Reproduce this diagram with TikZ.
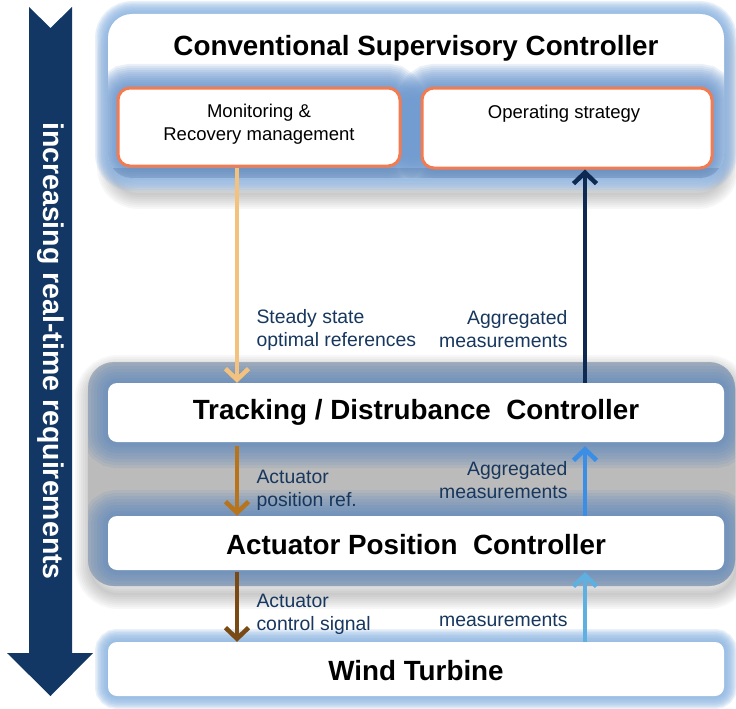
\documentclass[tikz,border=0pt]{standalone}
\usepackage{fontspec}
\setmainfont{Liberation Sans}
\usetikzlibrary{arrows.meta}
\definecolor{bignavy}{HTML}{123764}
\definecolor{labnavy}{HTML}{17375E}
\definecolor{glowlight}{HTML}{8DB4E2}
\definecolor{glowmid}{HTML}{5F90CC}
\definecolor{glowgrp}{HTML}{5A86BA}
\definecolor{grpgray}{HTML}{BBBBBB}
\definecolor{coral}{HTML}{F47B4F}
\definecolor{lorange}{HTML}{F2C27E}
\definecolor{brownA}{HTML}{B8741A}
\definecolor{brownB}{HTML}{7A4A14}
\definecolor{upnavy}{HTML}{0E2A52}
\definecolor{upblue}{HTML}{3A8EE6}
\definecolor{lblue}{HTML}{5FB0E0}
\tikzset{
  whitebox/.style={fill=white, draw=none},
  innerbox/.style={fill=white, draw=coral, line width=3pt, rounded corners=12pt},
  titletext/.style={font=\fontsize{27.8}{33}\selectfont\bfseries, text=black},
  labtext/.style={font=\fontsize{19.4}{23}\selectfont, text=labnavy},
  innertext/.style={font=\fontsize{18.5}{23}\selectfont, text=black, align=center},
  arr/.style={line width=4.5pt, -{Straight Barb[length=11pt,width=23pt,line width=4.5pt]}},
}
\newcommand\glowrect[6]{% color, maxwidth, step, opacity, corner radius, corners spec
  \foreach \w in {#2,#3,...,2}{\draw[#1, line width=\w pt, opacity=#4, rounded corners=#5] #6;}}
\begin{document}
\begin{tikzpicture}[x=1pt,y=-1pt]
\useasboundingbox[fill=white] (0,0) rectangle (736,709);

% big arrow
\fill[bignavy] (29,7) -- (50.5,28) -- (72,7) -- (72,653) -- (93,653) -- (50.5,696)
  -- (7,653) -- (29,653) -- cycle;
\node[rotate=-90, text=white, font=\fontsize{28.5}{33}\selectfont\bfseries] (vt) at (50.5,351)
  {increasing real-time requirements};

% ---- top box ----
\glowrect{black!50}{30}{26}{0.06}{26pt}{(112,30) rectangle (724,194)}
\glowrect{glowlight}{26}{23}{0.2}{24pt}{(108,14) rectangle (724,178)}
\path[fill=white, rounded corners=24pt] (108,14) rectangle (724,178);
\begin{scope}
  \clip[rounded corners=24pt] (108,14) rectangle (724,178);
  \glowrect{glowmid}{48}{44}{0.13}{12pt}{(118,88) rectangle (400,166)}
  \glowrect{glowmid}{48}{44}{0.13}{12pt}{(422,88) rectangle (712,168)}
  \fill[glowmid!80!black, opacity=0.3] (108,168) rectangle (724,178);
\end{scope}
\node[titletext] (csc) at (416,48) {Conventional Supervisory Controller};
\node[innerbox, minimum width=282pt, minimum height=78pt] (mon) at (259,127) {};
\node[innertext] (montext) at (259,124.5) {Monitoring \&\\Recovery management};
\node[innerbox, minimum width=290pt, minimum height=80pt] (ops) at (567,128) {};
\node[innertext] (opstext) at (564,114) {Operating strategy};

% ---- middle group ----
\glowrect{black!50}{30}{26}{0.06}{28pt}{(90,370) rectangle (736,594)}
\path[fill=grpgray, rounded corners=26pt] (88,362) rectangle (735,586);
\begin{scope}
  \clip[rounded corners=26pt] (88,362) rectangle (735,586);
  \glowrect{glowgrp}{52}{46}{0.13}{9pt}{(108,383) rectangle (724,442)}
  \glowrect{glowgrp}{52}{46}{0.13}{9pt}{(108,516) rectangle (724,570)}
\end{scope}
\node[whitebox, rounded corners=9pt, minimum width=616pt, minimum height=59pt] (tdc) at (416,412.5) {};
\node[titletext] (tdctext) at (416,412) {Tracking / Distrubance\ \ Controller};
\node[whitebox, rounded corners=9pt, minimum width=616pt, minimum height=54pt] (apc) at (416,543) {};
\node[titletext] (apctext) at (416,545) {Actuator Position\ \ Controller};

% ---- wind turbine ----
\glowrect{glowlight}{26}{23}{0.2}{9pt}{(108,642) rectangle (724,696)}
\node[whitebox, rounded corners=9pt, minimum width=616pt, minimum height=54pt] (wt) at (416,669) {};
\node[titletext] (wttext) at (416,671) {Wind Turbine};

% columns
\coordinate (cl) at (237,0);
\coordinate (cr) at (585,0);

% arrows
\draw[arr, lorange] (mon.south -| cl) -- (tdc.north -| cl);
\draw[arr, upnavy] (tdc.north -| cr) -- (ops.south -| cr);
\draw[arr, brownA] ([yshift=-4pt]tdc.south -| cl) -- (apc.north -| cl);
\draw[arr, upblue] (apc.north -| cr) -- ([yshift=-4pt]tdc.south -| cr);
\draw[arr, brownB] ([yshift=-2pt]apc.south -| cl) -- (wt.north -| cl);
\draw[arr, lblue] (wt.north -| cr) -- ([yshift=-2pt]apc.south -| cr);

% labels
\node[labtext, align=left, anchor=west] (l1) at (253,329.5) {Steady state\\optimal references};
\node[labtext, align=right, anchor=east] (l2) at (571,329.5) {Aggregated\\measurements};
\node[labtext, align=left, anchor=west] (l3) at (253,490) {Actuator\\position ref.};
\node[labtext, align=right, anchor=east] (l4) at (571,480.5) {Aggregated\\measurements};
\node[labtext, align=left, anchor=west] (l5) at (253,614.5) {Actuator\\control signal};
\node[labtext, align=right, anchor=east] (l6) at (571,620) {measurements};
\end{tikzpicture}
\end{document}
